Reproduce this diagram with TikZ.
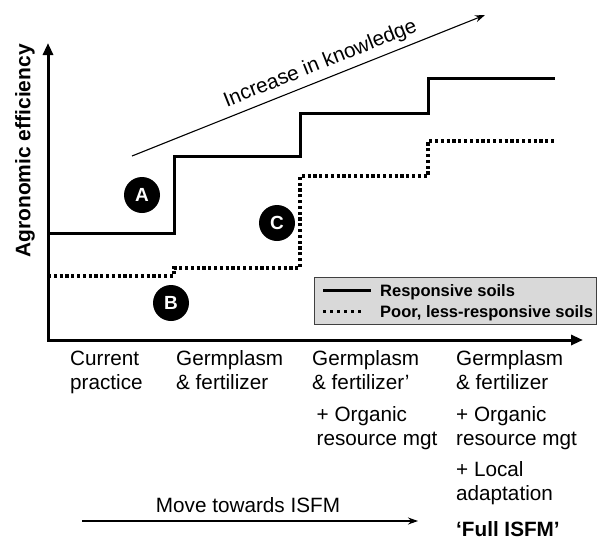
\documentclass[tikz,border=0pt]{standalone}
\usepackage{fontspec}
\setmainfont{Liberation Sans}
\usetikzlibrary{arrows.meta}
\begin{document}
\begin{tikzpicture}[x=1pt,y=-1pt,
  axisline/.style={line width=3pt, line join=miter,
    {Triangle[length=12pt,width=10pt]}-{Triangle[length=12pt,width=10pt]}},
  thinarrow/.style={line width=1.1pt, -{Stealth[length=10pt,width=7pt]}},
  solidstep/.style={line width=3pt, line join=miter},
  dotstep/.style={line width=3.3pt, dash pattern=on 3.2pt off 2.6pt},
  badge/.style={circle, fill=black, minimum size=36pt, inner sep=0pt,
    text=white, font=\bfseries\fontsize{19}{19}\selectfont},
  lab/.style={font=\fontsize{20.7}{24}\selectfont, inner sep=0pt, anchor=base west},
  legtext/.style={font=\bfseries\fontsize{16.5}{18}\selectfont, inner sep=0pt, anchor=base west},
  legendbox/.style={draw=black!75, line width=1pt, fill=black!15}]
\useasboundingbox (0,0) rectangle (598,542);

% axes
\coordinate (ytip) at (48,43);
\coordinate (origin) at (48,340);
\coordinate (xtip) at (583,340);
\draw[axisline] (ytip) -- (origin) -- (xtip);
\node[font=\bfseries\fontsize{21}{21}\selectfont, rotate=90, inner sep=0pt]
  (ylab) at (25,151) {Agronomic efficiency};

% yield steps
\draw[solidstep] (48,233) -- (174,233) -- (174,156) -- (300,156) -- (300,113)
  -- (428,113) -- (428,78) -- (555,78);
\draw[dotstep] (48,276) -- (174,276) -- (174,268) -- (300,268) -- (300,176)
  -- (428,176) -- (428,141) -- (555,141);

% knowledge arrow
\coordinate (k1) at (132,156);
\coordinate (k2) at (485,15);
\draw[thinarrow] (k1) -- (k2);
\node[font=\fontsize{20.7}{24}\selectfont, rotate=21.77, anchor=base, inner sep=0pt]
  (know) at (322.5,69) {Increase in knowledge};

% markers
\node[badge] (A) at (142,195) {A};
\node[badge] (B) at (171,303) {B};
\node[badge] (C) at (277,223) {C};

% legend
\draw[legendbox] (314,277) rectangle (596.5,324);
\coordinate (l1a) at (323,290);
\coordinate (l1b) at (371,290);
\coordinate (l2a) at (323,311);
\coordinate (l2b) at (362,311);
\draw[solidstep] (l1a) -- (l1b);
\draw[line width=3pt, dash pattern=on 3pt off 4pt] (l2a) -- (l2b);
\node[legtext] (leg1) at (380,296) {Responsive soils};
\node[legtext] (leg2) at (380,317) {Poor, less-responsive soils};

% practice labels
\node[lab] (c1a) at (70,365.5) {Current};
\node[lab] (c1b) at (70,389.5) {practice};
\node[lab] (c2a) at (176,365.5) {Germplasm};
\node[lab] (c2b) at (176,389.5) {\& fertilizer};
\node[lab] (c3a) at (312,365.5) {Germplasm};
\node[lab] (c3b) at (312,389.5) {\& fertilizer’};
\node[lab] (c3c) at (316.5,421.5) {+ Organic};
\node[lab] (c3d) at (316.5,445.5) {resource mgt};
\node[lab] (c4a) at (456,365.5) {Germplasm};
\node[lab] (c4b) at (456,389.5) {\& fertilizer};
\node[lab] (c4c) at (456,421.5) {+ Organic};
\node[lab] (c4d) at (456,445.5) {resource mgt};
\node[lab] (c4e) at (456,476.5) {+ Local};
\node[lab] (c4f) at (456,500.5) {adaptation};
\node[lab, font=\bfseries\fontsize{20.7}{24}\selectfont] (full) at (456,536.5) {‘Full ISFM’};

% progression arrow
\node[lab, anchor=base] (move) at (248,512.5) {Move towards ISFM};
\coordinate (m1) at (82,521);
\coordinate (m2) at (418,521);
\draw[thinarrow] (m1) -- (m2);
\end{tikzpicture}
\end{document}
